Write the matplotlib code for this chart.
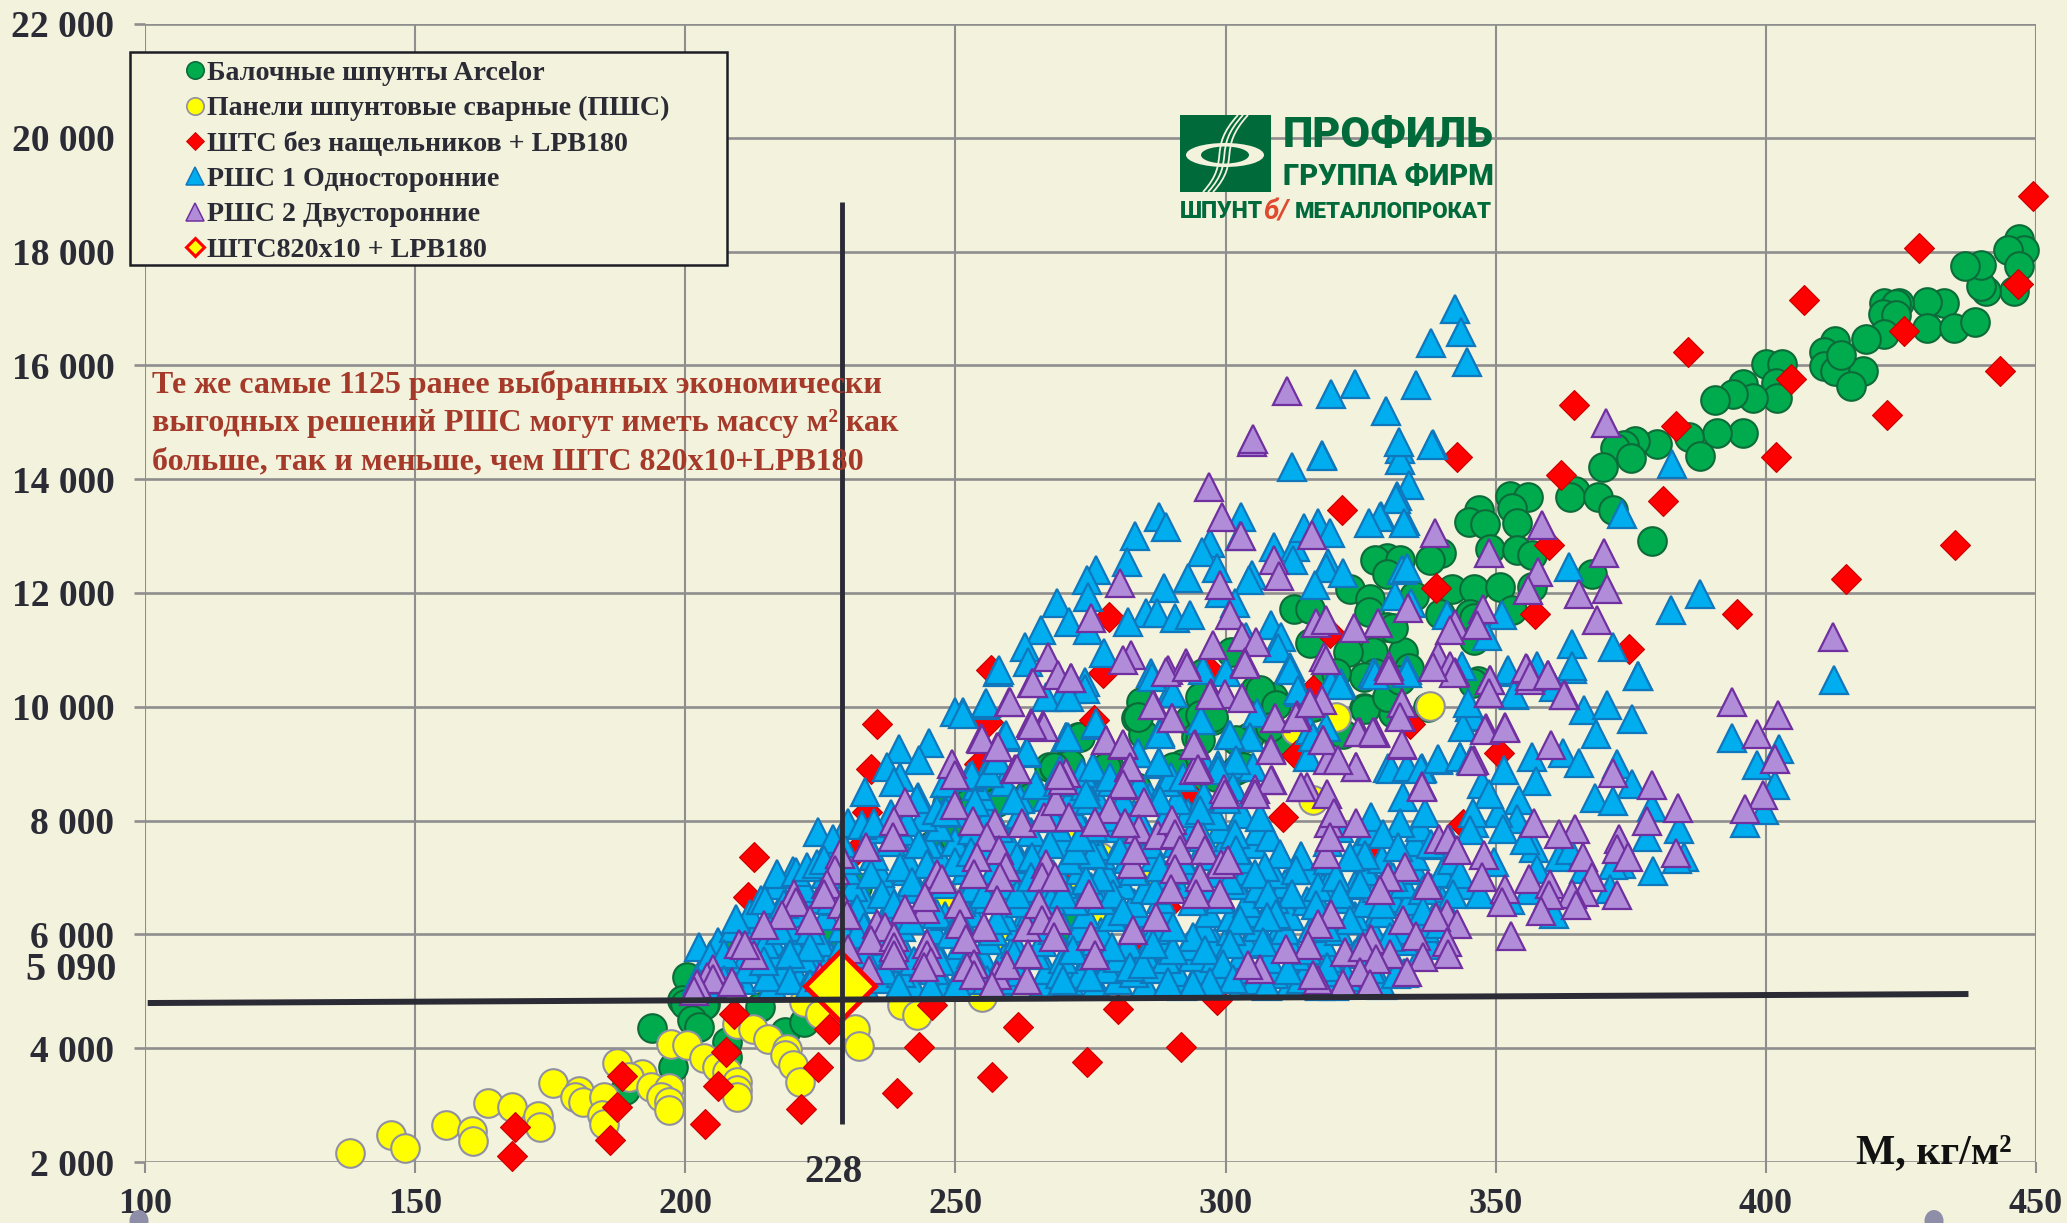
import matplotlib
matplotlib.use("Agg")
import matplotlib.pyplot as plt
from matplotlib.lines import Line2D
from matplotlib.patches import Ellipse, Rectangle, PathPatch
from matplotlib.path import Path
from matplotlib.legend_handler import HandlerLine2D
from matplotlib.transforms import Bbox

plt.rcParams['font.family'] = ['Liberation Serif', 'DejaVu Sans']

x_ticks = [100, 150, 200, 250, 300, 350, 400, 450]
y_ticks = [2000, 4000, 6000, 8000, 10000, 12000, 14000, 16000, 18000, 20000, 22000]
y_labels = ['2 000', '4 000', '6 000', '8 000', '10 000', '12 000', '14 000', '16 000', '18 000', '20 000', '22 000']

names = ['Балочные шпунты Arcelor', 'Панели шпунтовые сварные (ПШС)', 'ШТС без нащельников + LPB180',
         'РШС 1 Односторонние', 'РШС 2 Двусторонние', 'ШТС820х10 + LPB180']

green = [(446.8,18213),(447.7,18020),(444.8,18020),(446.8,17755),(446,17300),(440.8,17316),(439.8,17390),(439.8,17770),
(436.9,17740),(432.9,17100),(429.9,17115),(424.7,17100),(421.9,17100),(424,17080),(421.7,16900),(424,16880),(421.9,16560),
(418.6,16470),(429.9,16660),(434.9,16660),(438.8,16765),(412.8,16433),(410.8,16230),(410.8,15994),(412.8,15900),(417.9,15900),
(415.8,15630),(413.9,16180),(400,16025),(402.9,16025),(401.9,15690),(402,15430),(395.8,15680),(397.7,15430),(394,15500),
(390.6,15400),(395.8,14816),(390.9,14816),(385.8,14750),(387.9,14414),(379.8,14627),(375.8,14678),(373.7,14600),(372,14550),
(375,14364),(369.8,14220),(364.6,13800),(363.8,13680),(369,13680),(371.8,13450),(378.9,12922),(352.7,13700),(355.9,13690),
(353,13490),(346.9,13456),(345,13255),(348,13205),(353.9,13236),(349,12765),(353.9,12750),(356.7,12670),(339.9,12700),
(337.9,12580),(329.9,12610),(327.6,12580),(332.2,12580),(329.9,12326),(323,12075),(326.7,11887),(341.9,12075),(345.9,12075),
(350.8,12100),(356.7,12100),(367.9,12326),(312.7,11717),(315.6,11717),(326.5,11667),(339.6,11636),(345.3,11636),(329.9,11400),
(345.9,11560),(353,11706),(345.9,11180),(332.9,10970),(334,10680),(327.3,10970),(330.9,11384),(346.8,10447),(329.8,10150),
(337.5,10000),(331,9890),(327.6,10590),(334.8,11940),(322.7,10970),(325.7,10530),(325.7,9975),(315.6,11114),(301,10970),
(305.4,10293),(308.8,10176),(284.4,10090),(283.4,9795),(284.7,9530),(295.8,10586),(295.2,10176),(293.3,9765),(297.7,9765),
(294.6,9470),(272.7,9470),(267.3,8945),(270.4,9000),(278.5,8945),(263.6,8475),(257.4,8475),(283.4,8590),(292,9000),(302,8890),
(304.4,9470),(309.9,9410),(316.2,10000),(292,8590),(295.2,8830),(283.8,9824),(273,9470),(271.2,9000),(277.9,8945),(295.2,9853),
(297.7,9824),(295.2,9413),(306.3,10293),(309.4,10030),(308.2,9650),(302,9413),(303.2,8945),(290.3,8945),(318.7,10528),
(320.5,10587),(325.8,9970),(329.8,10176),(332.3,10470),(321.8,9530),(345.8,10410),(271.8,6130),(292.8,8530),(298.3,8770),
(268.2,8945),(257.7,8330),(252.2,8300),(263.9,8415),(248.5,8300),(245.7,7570),(249.7,7710),(200.3,5250),(199.4,4840),
(203.6,4780),(213.9,4720),(209,5840),(226.9,6010),(231.8,6830),(193.9,4363),(200,4784),(203.5,4755),(201.2,4490),(202.6,4374),
(207.7,4110),(207.7,3848),(197.7,3670),(188.9,3260),(218.4,4290),(222,4460),(206.6,5720)]

yellow = [(137.9,2150),(145.5,2470),(148.2,2240),(155.7,2650),(160.5,2550),(160.7,2374),(163.5,3030),(168,2960),(172.7,2807),
(173.2,2620),(175.6,3380),(180.4,3250),(179.5,3146),(181.1,3058),(184.9,3146),(184.6,2825),(184.9,2667),(187.4,3743),(191.9,3544),
(189.5,3497),(193.7,3320),(196.9,3292),(195.5,3146),(196.9,3058),(196.9,2912),(197.4,4070),(200.4,4050),(203.5,3820),(205.9,3670),
(207.7,3585),(209.5,3410),(209.5,3263),(209.5,3146),(209.5,4433),(212.6,4345),(215.3,4170),(218.9,3994),(218.5,3877),(220,3700),
(221.2,3410),(221.9,4813),(224.9,4608),(231.4,4345),(232.2,4040),(240.2,4755),(242.8,4580),(255,4900),(248.5,6600),(258.3,6010),
(263.2,7010),(270,7713),(337.8,10010),(320.5,9824),(313.1,9590),(316.2,8358),(298.3,7713),(282,8300),(294,8210),(276.7,7360),
(271.8,7070),(276,6250),(287.2,7010)]

red = [(449.5,18979),(428.3,18070),(407,17147),(385.5,16231),(364.4,15308),(342.9,14385),(425.6,16600),(446.6,17430),(443.4,15900),
(422.5,15125),(404.6,15757),(401.8,14390),(383.4,14930),(362.1,14080),(380.9,13615),(321.5,13456),(435,12847),(414.9,12245),
(394.7,11636),(374.6,11020),(359.9,12840),(357.3,11625),(339,12085),(350.6,9185),(278.5,11584),(256.6,10650),(277.3,10590),
(256,9736),(275.7,9766),(254.4,9000),(297,10645),(316.2,10290),(319.3,11290),(313.1,9150),(292.7,8500),(235.4,9690),(234.4,8915),
(233.6,8150),(212.7,7360),(211.7,6660),(210.8,6130),(231.8,7480),(209,4600),(167.9,2110),(168.5,2620),(186,2386),(187.4,2970),
(188.3,3510),(203.7,2667),(206,3333),(207.5,3936),(221.4,2940),(224.5,3672),(226.6,4345),(239.1,3216),(243.2,4023),(245.7,4755),
(256.8,3497),(261.5,4374),(274.3,3760),(280,4696),(291.7,4023),(298.4,4840),(293,8475),(310.7,8059),(334.1,9700),(326.7,7540),
(307,6830),(289,6480),(270.5,7070),(283.5,5660),(344,7940)]

blue_mass = [
(205,5130),(210.5,5190),(216,5110),(221,5200),(233,5120),(237,5210),(242,5140),(248,5100),(253,5190),(258,5120),(261,5200),(266,5100),(271,5180),
(276,5120),(280,5200),(285,5130),(292,5100),(296,5220),(303,5130),(305.5,5200),(312,5120),(314,5210),(320,5100),(326,5200),(329,5110),
(203,5360),(208,5320),(213,5390),(218,5340),(224,5380),(229,5300),(235,5400),(240,5330),(246,5370),(251,5310),(256,5400),(262,5340),(267,5370),
(273,5300),(278,5390),(283,5330),(287,5400),(291,5340),(295,5380),(300,5320),(304,5390),(309,5310),(315,5380),(321,5340),(327,5400),(333,5330),
(206,5620),(211,5570),(216,5640),(222,5590),(227,5610),(232,5550),(236,5650),(241,5590),(247,5630),(250,5560),(255,5620),(259,5590),(265,5640),
(270,5570),(275,5620),(280,5590),(285,5650),(289,5560),(294,5610),(298,5590),(303,5640),(308,5560),(313,5620),(319,5590),(324,5650),(331,5580),(336,5620),
(206,5860),(210,5810),(216,5890),(220,5830),(225,5870),(229,5800),(235,5880),(240,5830),(245,5860),(251,5820),(256,5900),(261,5830),(266,5870),
(272,5810),(276,5880),(282,5840),(288,5890),(293,5800),(298,5860),(304,5830),(309,5880),(312,5810),(318,5870),(325,5830),(333,5880),(338,5820),
(209,6110),(213,6060),(219,6130),(223,6080),(229,6120),(235,6050),(240,6130),(246,6070),(252,6120),(257,6060),(262,6140),(268,6080),(273,6110),
(277,6050),(283,6130),(287,6080),(296,6120),(301,6060),(306,6130),(311,6080),(316,6120),(321,6060),(327,6130),(333,6070),(337,6110),
(212,6360),(216,6310),(221,6380),(226,6330),(231,6370),(237,6300),(243,6380),(248,6330),(253,6370),(259,6310),(264,6390),(269,6330),(274,6360),
(279,6300),(284,6380),(289,6330),(297,6370),(301,6310),(305,6380),(312,6320),(318,6390),(324,6330),(329,6370),(335,6310),
(214,6610),(218,6560),(223,6630),(228,6580),(233,6620),(240,6550),(245,6630),(251,6570),(256,6620),(262,6560),(267,6640),(272,6580),(277,6610),
(283,6550),(288,6630),(294,6580),(299,6620),(304,6560),(309,6630),(315,6580),(322,6620),(326,6560),(331,6640),(334,6580),(340,6610),
(217,6860),(222,6810),(226,6880),(231,6830),(237,6870),(243,6800),(248,6880),(253,6820),(259,6870),(264,6810),(270,6890),(275,6830),(281,6860),
(285,6800),(291,6880),(296,6830),(302,6870),(306,6810),(311,6880),(318,6830),(324,6870),(328,6810),(333,6880),(338,6820),(344,6860),
(220,7110),(226,7060),(230,7130),(236,7080),(241,7120),(246,7050),(252,7130),(257,7070),(262,7120),(268,7060),(273,7140),(278,7080),(283,7110),
(289,7050),(293,7130),(298,7080),(304,7120),(309,7060),(315,7130),(320,7080),(326,7120),(330,7060),(335,7130),(340,7080),
(226,7360),(230,7310),(235,7380),(241,7330),(247,7370),(251,7300),(256,7380),(262,7320),(266,7370),(271,7310),(277,7390),(282,7330),(287,7360),
(292,7300),(297,7380),(303,7330),(314,7370),(319,7310),(325,7380),(329,7320),(335,7370),(342,7310),
(229,7610),(234,7560),(238,7630),(245,7580),(250,7620),(255,7550),(260,7630),(265,7570),(270,7620),(276,7560),(281,7640),(286,7580),(291,7610),
(296,7550),(300,7630),(305,7580),(319,7620),(325,7560),(335,7630),(339,7570),
(235,7860),(240,7810),(247,7880),(253,7830),(258,7870),(264,7800),(269,7880),(274,7820),(279,7870),(285,7810),(290,7890),(294,7830),(299,7860),
(306,7810),(321,7870),(327,7810),(336,7880),
(238,8110),(244,8060),(250,8130),(256,8080),(262,8120),(268,8050),(272,8130),(278,8070),(283,8120),(289,8060),(293,8140),(298,8080),(303,8110),
(327,8060),(337,8130),
(243,8410),(249,8360),(255,8430),(262,8380),(267,8420),(271,8350),(276,8430),(281,8370),(286,8420),(291,8360),(296,8440),(300,8380),
(248,8660),(254,8610),(259,8680),(265,8630),(269,8670),(274,8600),(279,8680),(284,8620),(289,8670)]

blue = [(412.7,10469),(376.4,10540),(366.3,9940),(370.6,10030),(375.2,9777),(368.6,9520),(393.7,9460),(398.4,8975),(402.4,9267),
(401.6,8620),(399.6,8190),(396.1,7950),(356.8,9110),(362.5,9180),(365.5,9015),(357.5,8700),(351.5,8885),(372.5,9000),(375.2,8650),
(368.4,8390),(371.8,8350),(378.9,8240),(354.4,8360),(353.9,8035),(350.4,8125),(351.3,7860),(347.5,8650),(348.7,8475),(345.9,7950),
(353.3,10205),(364.1,10670),(352,10615),(360.7,10350),(345.9,9825),(383.9,7860),(378,7715),(384.8,7360),(383.6,7330),(379.1,7115),
(373.1,7245),(371.8,7215),(361.7,7360),(363.8,7480),(357,7510),(355.5,7655),(357.6,7155),(349.6,7270),(366.3,7155),(371.2,6790),
(360.7,6360),(356.1,6775),(347.1,6715),(352.7,6600),
(382.6,14275),(373.3,13396),(363.5,12458),(387.8,11990),(382.5,11695),(364.1,11109),(371.8,11050),(364.1,10710),(376.3,10534),
(351.1,11620),(348.3,11238),(343.7,10710),(340.9,11620),(332.6,12410),(333.5,12440),(331.4,11940),(334.4,11825),(333.5,10650),
(327.7,10590),(332.2,14530),(338.3,14610),(332.3,14345),(333.9,13906),(331.7,13700),(328.8,13350),(333.2,13260),(352.2,10650),
(357.6,10710),(353.3,10230),(345.2,10000),(345.8,9830),(339.4,9070),(343.4,9125),(330.1,8920),(333.5,8920),(336.3,8920),
(317.9,14428),(312.3,14222),(287.7,13343),(288.9,13167),(283.3,13000),(302.9,13343),(297.2,12874),(295.6,12727),(302.6,13000),
(281.7,12550),(276,12405),(274.4,12230),(274.5,11935),(268.8,11820),(298.5,12434),(293,12260),(288.6,12080),(304.8,12317),
(304.4,12230),(308.9,12815),(312.8,12815),(312.5,12580),(314.6,13140),(317.1,13225),(319.3,13050),(319,12520),(318.6,12434),
(321.7,12346),(316.5,12140),(298.9,11995),(301.7,11820),(285.3,11640),(287.3,11640),(290.6,11555),(293.5,11610),(281.9,11495),
(271.1,11495),(265.9,11350),(274.5,11350),(262.8,11055),(263.4,10790),(257.8,10615),(277.5,10940),(273.9,10440),(271.4,10320),
(269.6,10176),(266.8,10176),(255.4,10030),(251.4,9910),(286.2,10586),(289.7,10235),(295.8,10645),(300.1,10615),(303.8,11230),
(308.5,11437),(310.3,11230),(309.7,11026),(311.9,10700),(313.7,10264),(319.6,10410),(321.4,10410),(327.3,10586),(305.9,9883),
(295.5,9765),(287.8,9560),(300.7,9500),(304.6,9470),(315.6,9590),(318.6,9650),(315.2,9120),(259,9470),(263.1,9180),(270.5,9470),
(276,9680),(283.8,9180),(287.5,9000),(275.7,8915),(269.4,8885),(273.4,8830),(289.9,8770),(295.8,9060),(298.6,8975),(301.4,9000),
(305,8945),(252.6,8770),(255.7,8830),
(258,10645),(255.6,10060),(250,9912),(251.4,9880),(245.2,9367),(239.6,9267),(243.2,9060),(237.3,8945),(239.8,8770),(238.6,8680),
(233.3,8504),(242.9,8387),(253.1,8800),(256.2,8830),(257.7,9060),(259.3,9500),(263.3,9210),(270.4,9470),(253.7,8330),(260.8,8358),
(230.2,7950),(232.7,7920),(234.9,7950),(224.6,7800),(227.3,7683),(241,7980),(243.2,7595),(246.6,8180),(248.2,8150),(217,7067),
(220.5,7100),(222.5,7185),(224.4,7245),(225.6,7300),(234.3,7067),(239.8,7185),(244.8,7245),(242,6920),(236.4,6715),(231.8,6450),
(214.8,6600),(209.4,6275),(250,7270),(252.8,7450),(261.4,7360),(267.5,7595),(264.2,7360),(202.5,5780),(204.6,5600),(207.1,5660),
(214.8,5835),(217.6,6070),(223.1,5780),(219.4,5660),(233,6130),(236.7,6130),(241.7,6250),(246.6,6365),(211.4,5400),(215.1,5250),
(219.4,5190),(223.1,5130),(226.8,5250),(231.8,5310),(236.7,5370),(239.5,5100),(245.4,5070),(242.3,5540),(249.1,6010),(250.3,5130),
(257.7,6250),(261.4,6715),(255.2,6715),(267.6,6600),(269.4,5310),(252.8,5660),(260.9,5660),(263.3,5190),(218.2,6540),(226.9,6600),
(266.4,6130),(233,5660),(255.9,5190),(202.2,5190),(207.1,5190),(214.5,5540),(247.2,5540),(231.8,6010),(238.6,6540),(250.9,6250),
(257.1,7125),(264,7010),
(273.9,10320),(271.1,10176),(270.8,9470),(276.1,9707),(275.5,8945),(283.8,9180),(287.7,9030),(286.3,10530),(290.2,10235),(295.5,9765),
(287.8,9530),(300.8,9500),(311.9,10645),(313.4,10290),(321.1,10380),(327.6,10557),(333.5,10587),(316.2,9470),(302,9060),(298.6,8885),
(292.1,8770),(301.4,8590),(274.9,8358),(330.7,8915),(333.5,8945),(336.2,8915),(339.4,9090),(343.4,9120),(345.5,9060),(332.9,8415),
(332.3,7950),(329.2,7770),(331.9,7535),(325.8,7390),(338.1,7595),(341.5,7655),(345.8,8125),(345.2,7830),(343.4,7070),(342.1,6715),
(323,7360),(317.1,6830),(320.5,7010),(324.9,6890),(308.2,7713),(310,7420),(301.7,7770),(302,7480),(307.3,7185),(305.4,7070),(313,7125),
(312.3,6715),(307.9,6715),(300.8,6950),(321.1,6715),(316.8,6510),(328.9,6540),(331,7010),(336.6,6775),(309.4,6365),(307.6,6305),
(302.6,6250),(300.8,5835),(294,5955),(296.2,5720),(306.9,5865),(323,6250),(318.7,6130),(330.4,5955),(315,5720),(311.6,5370),(318.7,5425),
(290.3,5720),(278.9,5780),(271.8,5720),(282.3,5425),(284.7,5480),(299.5,5480),(301.4,5220),(297.1,5160),(294,5130),(289.4,5160),
(274.9,5250),(269.9,5190),(307.6,5100),(317.4,5100),(322.4,5250),(336.6,6420),(331.6,5310),(279.2,6715),(276.7,7010),(274.2,6950),
(281,6420),(286.9,6775),(286.6,5835),(290.3,6130),(275.5,7420),(272.1,7480),(280.4,7480),(287.8,7185),(284.7,7890),(275.5,7890),
(273,7713),(274.2,8475),(278.6,8770),(287.8,8358),(295.2,8180),(306.3,8065),(344,9650),(344.9,10060),(295.8,7713),(339.7,6190),(269.9,6715),
(342.4,16998),(343.6,16590),(338.1,16400),(344.6,16056),(335.3,15660),(324,15667),(319.6,15504),(329.7,15190),(332.1,14650),(338.2,14600),
(317.9,14415),(331.6,13660),(328.5,13330),(326.6,13235),(333.1,13235)]

purple = [(393.7,10090),(402.3,9855),(398.4,9530),(401.6,9090),(399.5,8445),(396.1,8210),(383.8,8230),(378.9,8620),(371.8,8830),
(360.2,9330),(362.8,10200),(359.6,10557),(355.8,10657),(356.3,10470),(349,10470),(348.8,10235),(351.8,9650),(348.2,9620),(345.9,9060),
(357,7950),(364.7,7860),(361.7,7770),(378,8000),(372.8,7680),(372.5,7500),(374.4,7360),(383.4,7430),(366.1,7360),(347.8,7390),(347.5,7010),
(356.1,6980),(360.1,6890),(367.8,7010),(366.3,6745),(364.1,6715),(351.7,6800),(351.2,6570),(359.8,6685),(358.3,6420),(364.9,6510),
(372.5,6685),(352.9,5980),
(338.8,13056),(358.5,13200),(348.8,12700),(370.1,12700),(357.9,12364),(356,12058),(365.5,11990),(370.6,12076),(368.7,11520),(347.6,11718),
(333.7,11736),(342.5,11460),(346.6,11440),(341.5,11355),(328.3,11470),(339.4,10886),(341.5,10710),(342.5,10620),(330.3,10710),(355.6,10680),
(356.3,10535),(359.6,10565),(349,10475),(348.8,10240),(362.7,10210),(332.6,10065),(332.3,9830),(348,9600),(351.7,9620),(327.7,9540),
(332.6,9330),(345.7,9040),(336.3,8600),
(304.9,14660),(297,13870),(299.4,13343),(302.9,13000),(309,12580),(309.8,12290),(316,13020),(280.5,12170),(298.9,12140),(300.9,11610),
(275.1,11555),(282.5,10910),(281,10820),(267.2,10880),(269,10557),(271.3,10500),(264.2,10410),(259.9,10090),(297.7,11085),(303.1,11230),
(305.6,11144),(303.6,10792),(316.8,11466),(318.5,11525),(323.8,11378),(318.3,10880),(289.3,10645),(292.6,10770),(297.3,10235),(299.9,10225),
(303,10150),(286.7,10030),(290.1,9795),(309.1,9795),(313.2,9853),(315.7,10088),(317.9,10117),(318,9413),(324.8,9560),(327.6,9560),
(308.5,9267),(319,9060),(324.2,8945),(294.3,9355),(295,8945),(294.1,8885),(277.9,9413),(281,9325),(282.2,8945),(263.9,9707),(266.3,9680),
(254.8,9443),(257.7,9296),(261.1,8915),(270.5,8830),(281,8620),(308.6,8720),(315.1,8590),(299.8,8560),(305.4,8560),(318.8,8475),
(264.4,10410),(260.1,10090),(266.4,9650),(264.2,9680),(254.9,9440),(257.8,9300),(261.4,8915),(249.4,9000),(249.9,8800),(250,8270),
(240.7,8330),(238.7,8000),(238.4,7710),(233.5,7535),(253.3,8000),(257.4,7950),(262.3,7950),(266.4,8060),(268.6,8350),(270,8710),
(255.9,7710),(258,7480),(254,7360),(259.3,7185),(253.4,7067),(258.3,7010),(266.7,7245),(266,7010),(268.5,7010),(246.6,7067),(247.5,6980),
(257.7,6600),(250.6,6540),(244.4,6450),(244.4,6660),(240.7,6450),(250.9,6190),(255.2,6130),(263.3,6130),(265.4,6540),(266,6250),(268.8,6250),
(268.2,5950),(251.9,5925),(228.7,7420),(227.8,7125),(226.2,6890),(225.6,6715),(220.1,6715),(220.4,6570),(217.9,6335),(223.1,6250),(214.5,6160),
(229,6540),(229.9,6335),(235.5,6190),(237,6130),(234.3,5895),(238.7,5955),(238.7,5780),(238.7,5630),(244.8,5835),(244.8,5630),(245.4,5510),
(244.1,5425),(230.2,5750),(212.7,5630),(209.9,5835),(211.1,5810),(205.2,5400),(204,5250),(205.2,5220),(202.2,5130),(201.6,5000),(208.6,5160),
(234,5370),(225,5250),(253.4,5480),(252.2,5425),(253.4,5280),(257.7,5280),(259.6,5460),(256.8,5100),(263.3,5190),(263.5,5660),
(271.3,10500),(277.9,9413),(281,9355),(286.6,10030),(290,9795),(289,10616),(292.8,10700),(303.6,10760),(297.1,10205),(309.1,9795),(313.1,9824),
(315.6,10058),(318.5,10820),(330.3,10645),(332.6,10058),(332.3,9824),(342.3,10587),(338.4,10700),(324.5,9560),(327.3,9560),(318.1,9413),
(294.2,9325),(294.9,8915),(282.3,8945),(281,8650),(278.6,8210),(275.8,7977),(271.1,8065),(269.3,8800),(308.5,9240),(308.5,8710),(314,8590),
(305.4,8475),(299.9,8475),(284.9,8330),(284,7860),(281.3,7950),(287.5,7740),(290.1,8006),(290.6,7770),(294.9,7770),(291.5,7480),(296.2,7480),
(299.2,7245),(300.5,7300),(282.6,7245),(283.2,7480),(290.6,7155),(295.2,7010),(289.9,6800),(298.9,6715),(294.5,6715),(274.7,6715),(282.9,6070),
(287.2,6305),(275,5980),(275.8,5630),(319.2,7950),(320,8125),(324.1,7950),(318.6,7420),(319.3,7713),(324.2,8945),(320.8,9060),(332.6,9355),
(336.3,8590),(333.2,7185),(330.1,7010),(328.6,6775),(337.5,6860),(339.5,7683),(341.2,7683),(342.9,7480),(319.6,6365),(317.1,6190),(315.3,5805),
(322.1,5690),(340.9,6365),(342.8,6190),(339,6305),(332.9,6250),(335.2,5980),(327,5925),(325.5,5780),(330.4,5660),(340.9,5865),(341.2,5660),
(336.6,5600),(327.9,5570),(333.5,5340),(324.9,5340),(321.8,5130),(317.1,5190),(316.2,5280),(326.7,5130),(306.3,5395),(304.2,5455),(311.1,5750),
(311.4,15550),(305,14710),(370.5,14985),(412.4,11220)]

big_x, big_y = [228.6], [5090]
hline_x, hline_y = [100.5, 437.5], [4794, 4952]
vline_x, vline_y = [229, 229], [2670, 18870]

BG = '#f3f2dc'
INK = '#2b2b36'
GRID = '#8e8e8e'
W, H = 2067, 1223
fig = plt.figure(figsize=(W / 100, H / 100), dpi=100, facecolor=BG)
ax = fig.add_axes([145 / W, 1 - 1162 / H, (2036 - 145) / W, (1162 - 24) / H], facecolor=BG)
ax.set_xlim(100, 450)
ax.set_ylim(2000, 22000)
for s in ax.spines.values():
    s.set_visible(False)
ax.set_axisbelow(True)
ax.set_xticks(x_ticks)
ax.set_yticks(y_ticks)
ax.set_yticklabels(y_labels)
ax.grid(axis='y', color=GRID, lw=1.9)
ax.grid(axis='x', color=GRID, lw=1.5)
ax.tick_params(axis='y', length=8, width=1.9, color=GRID, labelsize=27, labelcolor=INK, pad=14)
ax.tick_params(axis='x', length=8, width=1.5, color=GRID, labelsize=26, labelcolor=INK, pad=11)
for t in ax.get_xticklabels() + ax.get_yticklabels():
    t.set_fontweight('bold')

styles = [
    dict(marker='o', ms=20.6, mfc='#00ab4e', mec='#0c6b38', mew=1.5),
    dict(marker='o', ms=20.6, mfc='#ffff00', mec='#9090a0', mew=1.5),
    dict(marker='D', ms=15, mfc='#ff0000', mec='#c80000', mew=0.8),
    dict(marker='^', ms=19.5, mfc='#00adef', mec='#0f77bc', mew=1.6),
    dict(marker='^', ms=19.5, mfc='#00adef', mec='#0f77bc', mew=1.6),
    dict(marker='^', ms=19.5, mfc='#b18cd9', mec='#7030a0', mew=1.6),
]
for pts, st in zip([green, yellow, red, blue_mass, blue, purple], styles):
    xs = [p[0] for p in pts]
    ys = [p[1] for p in pts]
    ax.plot(xs, ys, ls='none', clip_on=False, **st)

ax.plot(big_x, big_y, ls='none', marker='D', ms=36, mfc='#ffff00', mec='#ff0000', mew=3.4, zorder=4, clip_on=False)
ax.plot(hline_x, hline_y, color=INK, lw=4.3, solid_capstyle='butt', zorder=5)
ax.plot(vline_x, vline_y, color=INK, lw=3.5, solid_capstyle='butt', zorder=5)

ov = fig.add_axes([0, 0, 1, 1], facecolor='none')
ov.set_xlim(0, W)
ov.set_ylim(H, 0)
ov.axis('off')

handles = [
    Line2D([], [], ls='none', marker='o', ms=12.5, mfc='#00ab4e', mec='#0c6b38', mew=1.2),
    Line2D([], [], ls='none', marker='o', ms=12.5, mfc='#ffff00', mec='#9090a0', mew=1.2),
    Line2D([], [], ls='none', marker='D', ms=9.5, mfc='#ff0000', mec='#c80000', mew=0.6),
    Line2D([], [], ls='none', marker='^', ms=13, mfc='#00adef', mec='#0f77bc', mew=1.1),
    Line2D([], [], ls='none', marker='^', ms=13, mfc='#b18cd9', mec='#7030a0', mew=1.1),
    Line2D([], [], ls='none', marker='D', ms=9, mfc='#ffff00', mec='#ff0000', mew=2.2),
]
ov.add_patch(Rectangle((130, 52), 597, 213, facecolor=BG, edgecolor='#1d1d26', lw=1.8, zorder=9))
FS = 20.2
bbox = Bbox.from_extents(130 / W, 1 - 270 / H, 727 / W, 1 - 53.5 / H)
leg = ov.legend(handles, names, loc='upper left', bbox_to_anchor=bbox, bbox_transform=fig.transFigure, mode='expand',
                borderaxespad=0, borderpad=0.25, labelspacing=0.345, handlelength=2.15, handletextpad=0.33,
                prop={'weight': 'bold', 'size': FS}, labelcolor=INK, frameon=False, numpoints=1,
                handler_map={Line2D: HandlerLine2D(numpoints=1, xpad=1.95)})
leg.set_zorder(10)

for txt, yy in [('Те же самые 1125 ранее выбранных экономически', 385),
                ('выгодных решений РШС могут иметь массу м² как', 424),
                ('больше, так и меньше, чем ШТС 820х10+LPB180', 462)]:
    ov.text(152, yy, txt, color='#a63a2a', fontsize=23, fontweight='bold', va='center', ha='left')

ov.text(71, 971, '5 090', color=INK, fontsize=29, fontweight='bold', va='center', ha='center')
ov.text(833, 1172, '228', color=INK, fontsize=28, fontweight='bold', va='center', ha='center')
ov.text(1934, 1153, 'М, кг/м²', color='#111111', fontsize=30, fontweight='bold', va='center', ha='center')

for cx in (139, 1934):
    ov.add_patch(Ellipse((cx, 1221), 19, 22, color='#8e8ea8', lw=0))

# logo
LG = '#006a3b'
ov.add_patch(Rectangle((1180, 115), 91, 77, color=LG, lw=0))
ov.add_patch(Ellipse((1225, 155), 78, 24, facecolor=BG, edgecolor='none'))
ov.add_patch(Ellipse((1225, 155), 48, 17, facecolor=LG, edgecolor='none'))
for dx in (-6, -1, 4):
    p = Path([(1209 + dx, 192), (1238 + dx, 160), (1212 + dx, 150), (1244 + dx, 115)],
             [Path.MOVETO, Path.CURVE4, Path.CURVE4, Path.CURVE4])
    ov.add_patch(PathPatch(p, facecolor='none', edgecolor=BG, lw=1.3))
lf = ['Roboto', 'DejaVu Sans']
ov.text(1283, 135, 'ПРОФИЛЬ', color=LG, fontsize=31, fontweight=900, family=lf, va='center', ha='left')
ov.text(1283, 177, 'ГРУППА ФИРМ', color=LG, fontsize=21, fontweight=900, family=lf, va='center', ha='left')
ov.text(1180, 212, 'ШПУНТ', color=LG, fontsize=16.5, fontweight=900, family=lf, va='center', ha='left')
ov.text(1276, 212, 'б/', color='#e04a30', fontsize=20, fontweight='bold', style='italic', family=lf, va='center', ha='center')
ov.text(1492, 212, 'МЕТАЛЛОПРОКАТ', color=LG, fontsize=16, fontweight=900, family=lf, va='center', ha='right')

fig.savefig('out.png', dpi=100, facecolor=BG)
